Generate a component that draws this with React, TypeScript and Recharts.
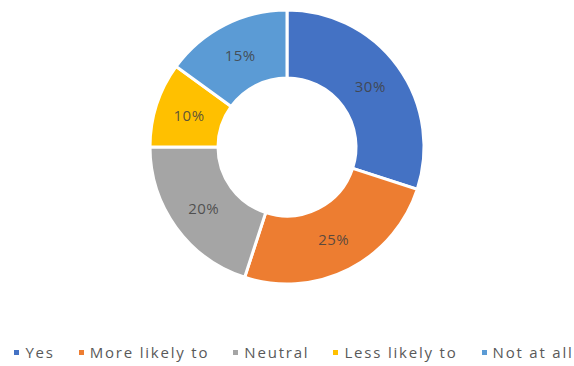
import React from 'react';
import { PieChart, Pie, Cell, Legend } from 'recharts';

const categories = ['Yes', 'More likely to', 'Neutral', 'Less likely to', 'Not at all'];
const shares = [30, 25, 20, 10, 15];
const colors = ['#4472C4', '#ED7D31', '#A5A5A5', '#FFC000', '#5B9BD5'];

const data = categories.map((name, i) => ({ name, value: shares[i] }));

const RADIAN = Math.PI / 180;

const renderLabel = (props: any) => {
  const { cx, cy, midAngle, innerRadius, outerRadius, value } = props;
  const r = (innerRadius + outerRadius) / 2;
  const x = cx + r * Math.cos(-midAngle * RADIAN);
  const y = cy + r * Math.sin(-midAngle * RADIAN);
  return (
    <text
      x={x}
      y={y}
      fill="#404040"
      fillOpacity={0.85}
      textAnchor="middle"
      dominantBaseline="central"
      fontSize={15}
      letterSpacing={0.5}
      fontFamily="'Open Sans', sans-serif"
    >
      {`${value}%`}
    </text>
  );
};

const renderLegend = () => (
  <div
    style={{
      display: 'flex',
      justifyContent: 'center',
      gap: 24,
      fontFamily: "'Open Sans', sans-serif",
      fontSize: 15,
      letterSpacing: 1.8,
      color: '#595959',
      whiteSpace: 'nowrap',
      lineHeight: '20px',
    }}
  >
    {categories.map((c, i) => (
      <span key={c} style={{ display: 'flex', alignItems: 'center' }}>
        <span style={{ width: 5, height: 5, background: colors[i], marginRight: 6, display: 'inline-block' }} />
        {c}
      </span>
    ))}
  </div>
);

const App: React.FC = () => {
  return (
    <div style={{ position: 'absolute', left: 0, top: 0, background: '#fff' }}>
      <PieChart width={574} height={366} margin={{ top: 0, right: 0, bottom: 0, left: 0 }}>
        <Pie
          data={data}
          dataKey="value"
          nameKey="name"
          cx={287}
          cy={147}
          innerRadius={69}
          outerRadius={137}
          startAngle={90}
          endAngle={-270}
          stroke="#fff"
          strokeWidth={3}
          label={renderLabel}
          labelLine={false}
          isAnimationActive={false}
        >
          {data.map((d, i) => (
            <Cell key={d.name} fill={colors[i]} />
          ))}
        </Pie>
        <Legend content={renderLegend} wrapperStyle={{ top: 342, left: 7, width: 574 }} />
      </PieChart>
    </div>
  );
};

export default App;
